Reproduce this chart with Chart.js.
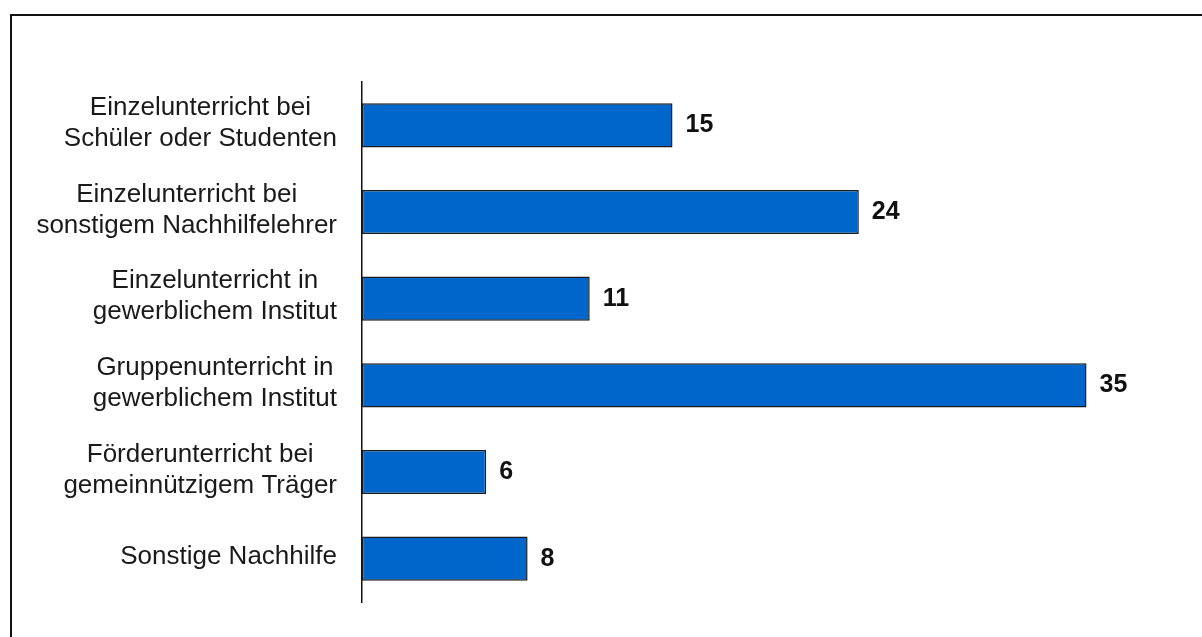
<!DOCTYPE html>
<html>
<head>
<meta charset="utf-8">
<script src="https://cdn.jsdelivr.net/npm/chart.js@4"></script>
<style>
  html, body { margin: 0; padding: 0; background: #fff; overflow: hidden; }
  #frame { position: absolute; left: 10px; top: 14px; width: 1300px; height: 700px; border: 2px solid #111; box-sizing: border-box; }
  #wrap { position: absolute; left: 0; top: 0; width: 1202px; height: 637px; }
</style>
</head>
<body>
<div id="frame"></div>
<div id="wrap"><canvas id="myChart"></canvas></div>
<script>
// categories (multi-line) and values
const categories = [
  ['Einzelunterricht bei', 'Schüler oder Studenten'],
  ['Einzelunterricht bei', 'sonstigem Nachhilfelehrer'],
  ['Einzelunterricht in', 'gewerblichem Institut'],
  ['Gruppenunterricht in', 'gewerblichem Institut'],
  ['Förderunterricht bei', 'gemeinnützigem Träger'],
  ['Sonstige Nachhilfe']
];
const values = [15, 24, 11, 35, 6, 8];

const FONT = '"Liberation Sans", Arial, sans-serif';

// category labels: each block right-aligned, lines centered inside the block
const labelPlugin = {
  id: 'blockLabels',
  afterDraw(chart) {
    const ctx = chart.ctx;
    const y = chart.scales.y;
    ctx.save();
    ctx.font = '26px ' + FONT;
    ctx.fillStyle = '#1a1a1a';
    ctx.textAlign = 'center';
    ctx.textBaseline = 'middle';
    const right = y.right - 25;
    const lh = 31;
    categories.forEach((lines, i) => {
      const w = Math.max(...lines.map(l => ctx.measureText(l).width));
      const cx = right - w / 2;
      const cy = y.getPixelForValue(i) - 2;
      const top = cy - (lines.length - 1) * lh / 2;
      lines.forEach((l, j) => ctx.fillText(l, cx, top + j * lh));
    });
    ctx.restore();
  }
};

// value labels next to bar ends
const valuePlugin = {
  id: 'valueLabels',
  afterDatasetsDraw(chart) {
    const ctx = chart.ctx;
    const meta = chart.getDatasetMeta(0);
    ctx.save();
    ctx.font = 'bold 25px ' + FONT;
    ctx.fillStyle = '#111';
    ctx.textAlign = 'left';
    ctx.textBaseline = 'middle';
    meta.data.forEach((bar, i) => {
      ctx.fillText(String(values[i]), bar.x + 13, bar.y);
    });
    ctx.restore();
  }
};

const ctx = document.getElementById('myChart').getContext('2d');

const myChart = new Chart(ctx, {
  type: 'bar',
  data: {
    labels: categories,
    datasets: [{
      data: values,
      backgroundColor: '#0066CC',
      borderColor: '#1a1a1a',
      borderWidth: 1.5,
      borderSkipped: false,
      categoryPercentage: 1,
      barPercentage: 0.51
    }]
  },
  options: {
    indexAxis: 'y',
    responsive: true,
    maintainAspectRatio: false,
    animation: false,
    layout: { padding: { left: 10, top: 82, right: 12, bottom: 35 } },
    plugins: {
      legend: { display: false },
      tooltip: { enabled: false }
    },
    scales: {
      x: { display: false, min: 0, max: 40 },
      y: {
        grid: { display: false, drawTicks: false },
        border: { display: true, color: '#111', width: 1.5 },
        ticks: { display: false },
        afterFit(scale) { scale.width = 352; }
      }
    }
  },
  plugins: [labelPlugin, valuePlugin]
});
</script>
</body>
</html>
